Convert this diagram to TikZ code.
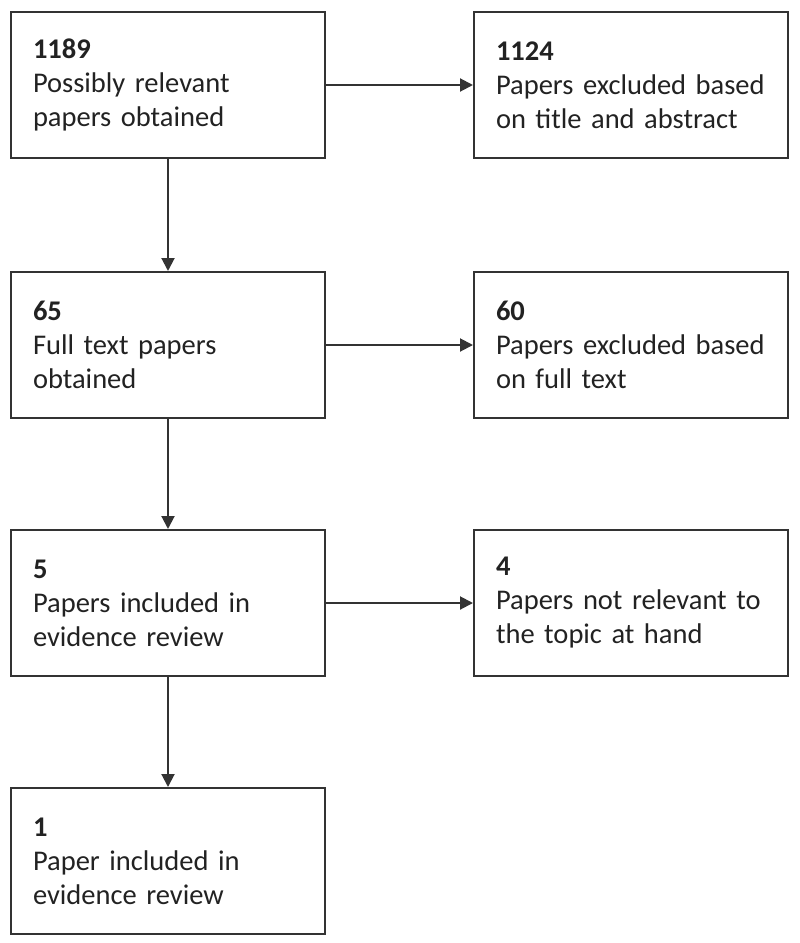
\documentclass[tikz,border=0pt]{standalone}
\usepackage{fontspec}
\setmainfont{Carlito}
\usepackage{tikz}
\usetikzlibrary{arrows.meta,positioning}
\definecolor{linegray}{HTML}{333333}
\definecolor{textgray}{HTML}{222222}

\begin{document}
\begin{tikzpicture}[x=1pt, y=-1pt,
  stage/.style={draw=linegray, line width=2pt, minimum width=313pt, minimum height=146pt,
    text width=270pt, align=left, inner xsep=22pt, text=textgray,
    font=\fontsize{28.5}{34}\selectfont},
  flow/.style={-{Triangle[length=13pt, width=13pt]}, line width=2pt, draw=linegray}]
  \useasboundingbox (0,0) rectangle (800,943);
  \node[stage] (n1189) at (168,85) {\textbf{1189}\\Possibly relevant\\papers obtained};
  \node[stage] (n1124) at (631,85) {\textbf{1124}\\Papers excluded based\\on title and abstract};
  \node[stage] (n65) at (168,345) {\textbf{65}\\Full text papers\\obtained};
  \node[stage] (n60) at (631,345) {\textbf{60}\\Papers excluded based\\on full text};
  \node[stage] (n5) at (168,603) {\textbf{5}\\Papers included in\\evidence review};
  \node[stage] (n4) at (631,603) {\textbf{4}\\Papers not relevant to\\the topic at hand};
  \node[stage] (n1) at (168,861) {\textbf{1}\\Paper included in\\evidence review};
  \draw[flow] (n1189) -- (n1124);
  \draw[flow] (n65) -- (n60);
  \draw[flow] (n5) -- (n4);
  \draw[flow] (n1189) -- (n65);
  \draw[flow] (n65) -- (n5);
  \draw[flow] (n5) -- (n1);
\end{tikzpicture}
\end{document}
